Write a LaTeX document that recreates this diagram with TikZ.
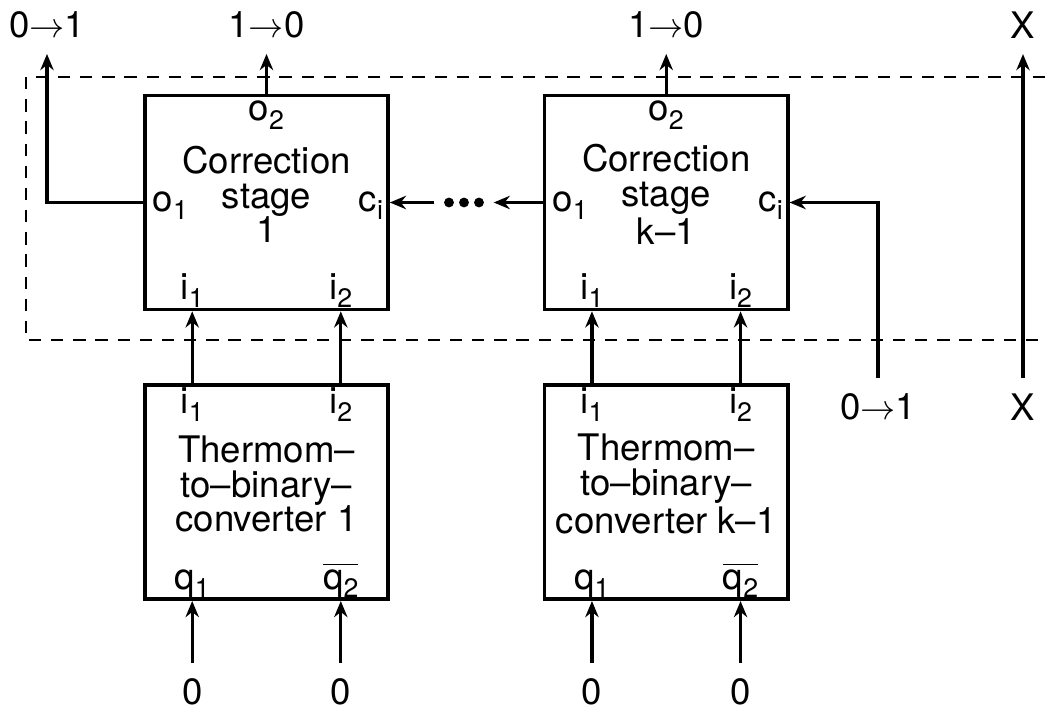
\documentclass[tikz,border=0pt]{standalone}
\usepackage{fontspec}
\setmainfont{TeX Gyre Heros}
\usetikzlibrary{positioning, arrows.meta, calc}
\newcommand{\pinname}[2]{#1\raisebox{-2.4pt}{\fontsize{7.6}{8}\selectfont #2}}

\begin{document}
\begin{tikzpicture}[x=0.01cm, y=-0.01cm, line width=0.95pt,
    font=\fontsize{10.4}{9.8}\selectfont,
    blk/.style={draw, line width=1pt, minimum width=2.43cm, minimum height=2.14cm, inner sep=0pt},
    txt/.style={align=center, inner sep=0pt},
    port/.style={inner sep=0pt, anchor=base},
    term/.style={inner sep=4pt},
    wire/.style={-{Stealth[length=4.6pt, width=3.8pt, inset=1.5pt]}}]
  \useasboundingbox (0,0) rectangle (1045,712);

  % correction stages and converters
  \node[blk] (cs1) at (266.5,202.5) {};
  \node[blk, right=1.53cm of cs1] (csk) {};
  \node[blk, below=0.72cm of cs1] (tb1) {};
  \node[blk, below=0.72cm of csk] (tbk) {};

  \node[txt] at ($(cs1)+(0,-8)$) {Correction\\stage\\1};
  \node[txt] at ($(csk)+(0,-8)$) {Correction\\stage\\k--1};
  \node[txt] at ($(tb1)+(0,-8)$) {Thermom--\\to--binary--\\converter 1};
  \node[txt] at ($(tbk)+(0,-8)$) {Thermom--\\to--binary--\\converter k--1};

  % pin columns
  \coordinate (p1) at ([xshift=4.9mm]tb1.south west);
  \coordinate (p2) at ([xshift=-4.9mm]tb1.south east);
  \coordinate (p3) at ([xshift=4.9mm]tbk.south west);
  \coordinate (p4) at ([xshift=-4.9mm]tbk.south east);
  \coordinate (zrow) at (0,692);

  % pin labels
  \node[port] at ($(cs1.north)+(0,27)$) {\pinname{o}{2}};
  \node[port] at ($(csk.north)+(0,27)$) {\pinname{o}{2}};
  \node[port, anchor=base west] at ($(cs1.west)+(8,8.5)$) {\pinname{o}{1}};
  \node[port, anchor=base west] at ($(csk.west)+(8,8.5)$) {\pinname{o}{1}};
  \node[port, anchor=base east] at ($(cs1.east)+(-5,8.5)$) {\pinname{c}{i}};
  \node[port, anchor=base east] at ($(csk.east)+(-5,8.5)$) {\pinname{c}{i}};
  \node[port] at ($(p1 |- cs1.south)+(0,-12)$) {\pinname{i}{1}};
  \node[port] at ($(p2 |- cs1.south)+(0,-12)$) {\pinname{i}{2}};
  \node[port] at ($(p3 |- csk.south)+(0,-12)$) {\pinname{i}{1}};
  \node[port] at ($(p4 |- csk.south)+(0,-12)$) {\pinname{i}{2}};
  \node[port] at ($(p1 |- tb1.north)+(0,30)$) {\pinname{i}{1}};
  \node[port] at ($(p2 |- tb1.north)+(0,30)$) {\pinname{i}{2}};
  \node[port] at ($(p3 |- tbk.north)+(0,30)$) {\pinname{i}{1}};
  \node[port] at ($(p4 |- tbk.north)+(0,30)$) {\pinname{i}{2}};
  \node[port] at ($(p1)+(0,-12)$) {\pinname{q}{1}};
  \node[port] at ($(p2)+(0,-12)$) {$\overline{\mbox{\pinname{q}{2}}}$};
  \node[port] at ($(p3)+(0,-12)$) {\pinname{q}{1}};
  \node[port] at ($(p4)+(0,-12)$) {$\overline{\mbox{\pinname{q}{2}}}$};

  % terminals
  \node[term] (y0) at (47,25) {0$\rightarrow$1};
  \node[term] (y1) at (cs1.north |- y0) {1$\rightarrow$0};
  \node[term] (yk) at (csk.north |- y0) {1$\rightarrow$0};
  \node[term] (xo) at (1023,25) {X};
  \node[term] (ci) at (878,407) {0$\rightarrow$1};
  \node[term] (xi) at (1023,407) {X};
  \node[term] (z1) at (p1 |- zrow) {0};
  \node[term] (z2) at (p2 |- zrow) {0};
  \node[term] (z3) at (p3 |- zrow) {0};
  \node[term] (z4) at (p4 |- zrow) {0};
  \node[minimum width=0.56cm, minimum height=0.2cm, inner sep=0pt] (dots) at (464,202.5) {};
  \foreach \dx in {-15,0,15}
    \fill ($(dots)+(\dx,0)$) circle (1.4pt);

  % dashed frame
  \draw[dash pattern=on 3.5pt off 2.8pt, line width=0.75pt] (1045,77) -| (26,340) -- (1045,340);

  % wires
  \draw[wire] (z1) -- (p1);
  \draw[wire] (z2) -- (p2);
  \draw[wire] (z3) -- (p3);
  \draw[wire] (z4) -- (p4);
  \draw[wire] (p1 |- tb1.north) -- (p1 |- cs1.south);
  \draw[wire] (p2 |- tb1.north) -- (p2 |- cs1.south);
  \draw[wire] (p3 |- tbk.north) -- (p3 |- csk.south);
  \draw[wire] (p4 |- tbk.north) -- (p4 |- csk.south);
  \draw[wire] (cs1.west) -| (y0);
  \draw[wire] (cs1.north) -- (y1);
  \draw[wire] (csk.north) -- (yk);
  \draw[wire] (csk.west) -- (dots);
  \draw[wire] (dots) -- (cs1.east);
  \draw[wire] (ci) |- (csk.east);
  \draw[wire] (xi) -- (xo);
\end{tikzpicture}
\end{document}
